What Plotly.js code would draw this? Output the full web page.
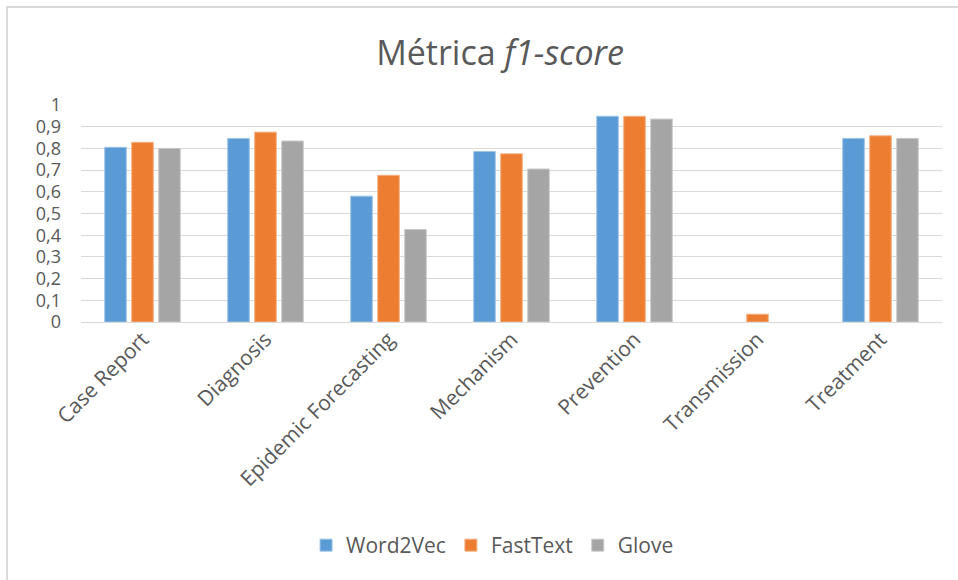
<!DOCTYPE html>
<html>
<head>
<meta charset="utf-8">
<script src="https://cdn.plot.ly/plotly-3.0.1.min.js"></script>
<style>
  html, body { margin: 0; padding: 0; background: #ffffff; }
  #wrap { position: relative; width: 958px; height: 580px; overflow: hidden; }
  #chart { position: absolute; left: 0; top: 0; width: 958px; height: 580px; }
  #frame { position: absolute; left: 6px; top: 6px; width: 1000px; height: 700px; border-left: 2px solid #d9d9d9; border-top: 2px solid #d9d9d9; pointer-events: none; }
</style>
</head>
<body>
<div id="wrap">
  <div id="chart"></div>
  <div id="frame"></div>
</div>
<script>
const categories = ["Case Report", "Diagnosis", "Epidemic Forecasting", "Mechanism", "Prevention", "Transmission", "Treatment"];
const word2vec = [0.805, 0.846, 0.58, 0.786, 0.948, 0, 0.846];
const fasttext = [0.828, 0.875, 0.676, 0.775, 0.948, 0.036, 0.858];
const glove    = [0.80, 0.834, 0.426, 0.705, 0.935, 0, 0.846];
const seriesNames = ["Word2Vec", "FastText", "Glove"];
const yTicks = [0, 0.1, 0.2, 0.3, 0.4, 0.5, 0.6, 0.7, 0.8, 0.9, 1];

const colors = ["#5b9bd5", "#ed7d31", "#a5a5a5"];
const borders = ["#9dc3e6", "#f4b183", "#c9c9c9"];
const font = "'Open Sans', 'Noto Sans', sans-serif";

const data = [word2vec, fasttext, glove].map((vals, i) => ({
  type: "bar",
  name: seriesNames[i],
  x: categories,
  y: vals,
  marker: { color: colors[i], line: { color: borders[i], width: vals.map(v => v > 0 ? 1 : 0) } },
  hoverinfo: "none"
}));

const layout = {
  width: 958,
  height: 580,
  margin: { l: 81, r: 16, t: 105, b: 258 },
  paper_bgcolor: "#ffffff",
  plot_bgcolor: "#ffffff",
  separators: ", ",
  font: { family: font, color: "#595959", size: 20 },
  title: {
    text: "Métrica <i>f1-score</i>",
    font: { family: font, size: 34, color: "#595959" },
    x: 0.522, xanchor: "center",
    y: 0.908, yanchor: "middle"
  },
  barmode: "group",
  bargap: 0.342,
  bargroupgap: 0.2,
  showlegend: true,
  legend: {
    orientation: "h",
    x: 0.478, xanchor: "center",
    y: -1.03, yanchor: "middle",
    font: { family: font, size: 21, color: "#595959" },
    itemwidth: 30,
    traceorder: "normal"
  },
  xaxis: {
    type: "category",
    tickangle: -45,
    tickfont: { family: font, size: 21, color: "#595959" },
    showgrid: false,
    showline: false,
    zeroline: false,
    ticks: "",
    fixedrange: true
  },
  yaxis: {
    range: [0, 1],
    tickvals: yTicks,
    ticktext: yTicks.map(v => String(v).replace(".", ",")),
    tickfont: { family: font, size: 18, color: "#595959" },
    showgrid: true,
    gridcolor: "#d9d9d9",
    gridwidth: 1,
    zeroline: true,
    zerolinecolor: "#d9d9d9",
    zerolinewidth: 1,
    showline: false,
    ticks: "",
    ticklabelstandoff: 19,
    fixedrange: true
  }
};

Plotly.newPlot("chart", data, layout, { displayModeBar: false, staticPlot: true });
</script>
</body>
</html>
